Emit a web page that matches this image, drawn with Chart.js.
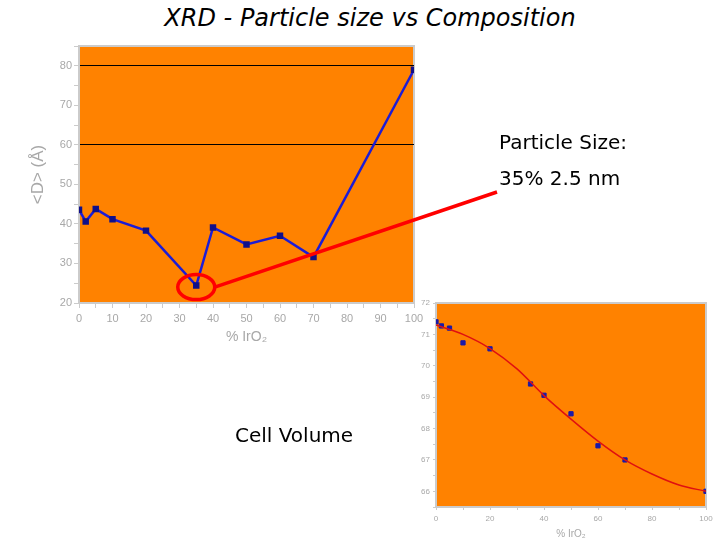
<!DOCTYPE html>
<html>
<head>
<meta charset="utf-8">
<script src="https://cdn.jsdelivr.net/npm/chart.js@4.4.0/dist/chart.umd.min.js"></script>
<style>
  body { margin: 0; background: #fff; width: 720px; height: 540px; position: relative; overflow: hidden; font-family: "DejaVu Sans", sans-serif; }
  canvas { position: absolute; }
  .txt { position: absolute; white-space: nowrap; color: #000; }
</style>
</head>
<body>
<div class="txt" style="left:0;width:740px;top:4px;text-align:center;font-size:24px;line-height:28px;font-style:italic;">XRD - Particle size vs Composition</div>
<canvas id="sizeChart" style="left:0;top:0;" width="720" height="540"></canvas>
<canvas id="volChart" style="left:400px;top:290px;" width="320" height="250"></canvas>
<div class="txt" style="left:499px;top:130px;font-size:20px;line-height:24px;">Particle Size:</div>
<div class="txt" style="left:499px;top:166px;font-size:20px;line-height:24px;">35% 2.5 nm</div>
<div class="txt" style="left:235px;top:423px;font-size:20px;line-height:24px;">Cell Volume</div>
<script>
// particle size <D> vs % IrO2
const composition = [0, 2, 5, 10, 20, 35, 40, 50, 60, 70, 100];
const particleSize = [43.6, 40.6, 43.8, 41.2, 38.3, 24.4, 39.1, 34.8, 37.0, 31.6, 79.0];
const refLines = [60, 80];
// cell volume vs % IrO2
const cellVolume = [71.4, 71.27, 71.2, 70.73, 70.54, 69.42, 69.06, 68.47, 67.45, 67.0, 66.0];
const fitX = [0, 10, 20, 30, 40, 50, 60, 70, 80, 90, 100];
const fitY = [71.3, 71.0, 70.55, 69.9, 69.05, 68.3, 67.6, 67.0, 66.55, 66.2, 66.0];
const highlightX = 35;

const ORANGE = '#ff8200';
const FRAME = '#cbcbcb';
const TICKGREY = '#a8a8a8';

const plotBg = {
    id: 'plotBg',
    beforeDraw(chart) {
        const a = chart.chartArea, ctx = chart.ctx;
        ctx.save();
        ctx.fillStyle = ORANGE;
        ctx.fillRect(a.left, a.top, a.right - a.left, a.bottom - a.top);
        ctx.strokeStyle = FRAME;
        ctx.lineWidth = 2;
        ctx.strokeRect(a.left, a.top, a.right - a.left, a.bottom - a.top);
        ctx.restore();
    }
};

const callout = {
    id: 'callout',
    afterDraw(chart) {
        const ctx = chart.ctx;
        const i = composition.indexOf(highlightX);
        const cx = chart.scales.x.getPixelForValue(highlightX);
        const cy = chart.scales.y.getPixelForValue(particleSize[i]) + 1.5;
        ctx.save();
        ctx.strokeStyle = '#ff0000';
        ctx.lineWidth = 3.5;
        ctx.beginPath();
        ctx.ellipse(cx, cy, 18.5, 12.5, 0, 0, Math.PI * 2);
        ctx.stroke();
        ctx.beginPath();
        ctx.moveTo(cx + 18.5, cy);
        ctx.lineTo(497, 192);
        ctx.stroke();
        ctx.restore();
    }
};

function fixed(size) {
    return function (scale) {
        if (scale.isHorizontal()) scale.height = size; else scale.width = size;
    };
}

new Chart(document.getElementById('sizeChart'), {
    type: 'line',
    data: {
        datasets: [{
            data: composition.map((x, i) => ({ x: x, y: particleSize[i] })),
            borderColor: '#1c1cd6',
            borderWidth: 2.5,
            pointStyle: 'rect',
            pointRadius: 2.8,
            pointBackgroundColor: '#10108a',
            pointBorderColor: '#10108a',
            tension: 0
        }]
    },
    options: {
        responsive: false,
        animation: false,
        layout: { padding: { left: 20, top: 46, right: 306, bottom: 190 } },
        plugins: { legend: { display: false }, tooltip: { enabled: false } },
        scales: {
            x: {
                type: 'linear', min: 0, max: 100,
                afterFit: fixed(47),
                ticks: {
                    stepSize: 5, color: TICKGREY, padding: 4,
                    maxRotation: 0, minRotation: 0, autoSkip: false,
                    font: { family: 'Liberation Sans', size: 11 },
                    callback: v => v % 10 === 0 ? v : ''
                },
                grid: { drawOnChartArea: false, tickLength: 5, tickColor: FRAME },
                border: { color: FRAME, width: 2 },
                title: { display: true, text: '% IrO₂', color: TICKGREY, font: { family: 'Liberation Sans', size: 14 }, padding: { top: 2, bottom: 4 } }
            },
            y: {
                min: 20, max: 85,
                afterFit: fixed(59),
                ticks: {
                    stepSize: 5, color: TICKGREY, padding: 2, autoSkip: false,
                    font: { family: 'Liberation Sans', size: 11 },
                    callback: v => (v % 10 === 0 && v <= 80) ? v : ''
                },
                grid: {
                    tickLength: 5, tickColor: FRAME, lineWidth: 1,
                    color: c => refLines.includes(c.tick.value) ? '#000' : 'rgba(0,0,0,0)'
                },
                border: { color: FRAME, width: 2 },
                title: { display: true, text: '<D> (Å)', color: TICKGREY, font: { family: 'Liberation Sans', size: 17 }, padding: { top: 8, bottom: 2 } }
            }
        }
    },
    plugins: [plotBg, callout]
});

new Chart(document.getElementById('volChart'), {
    type: 'line',
    data: {
        datasets: [{
            data: fitX.map((x, i) => ({ x: x, y: fitY[i] })),
            borderColor: '#e01010',
            borderWidth: 1.5,
            pointRadius: 0,
            cubicInterpolationMode: 'monotone'
        }, {
            data: composition.map((x, i) => ({ x: x, y: cellVolume[i] })),
            showLine: false,
            pointStyle: 'rect',
            pointRadius: 3,
            pointBackgroundColor: '#1a1aa8',
            pointBorderColor: '#1a1aa8'
        }]
    },
    options: {
        responsive: false,
        animation: false,
        layout: { padding: { left: 0, top: 13, right: 14, bottom: 0 } },
        plugins: { legend: { display: false }, tooltip: { enabled: false } },
        scales: {
            x: {
                type: 'linear', min: 0, max: 100,
                afterFit: fixed(33),
                ticks: {
                    stepSize: 10, color: TICKGREY, padding: 4,
                    maxRotation: 0, minRotation: 0, autoSkip: false,
                    font: { family: 'Liberation Sans', size: 8 },
                    callback: v => v % 20 === 0 ? v : ''
                },
                grid: { drawOnChartArea: false, tickLength: 3, tickColor: FRAME },
                border: { color: FRAME, width: 2 },
                title: { display: true, text: '% IrO₂', color: TICKGREY, font: { family: 'Liberation Sans', size: 10 }, padding: { top: 0, bottom: 0 } }
            },
            y: {
                min: 65.5, max: 72,
                afterFit: fixed(36),
                ticks: {
                    stepSize: 0.5, color: TICKGREY, padding: 3, autoSkip: false,
                    font: { family: 'Liberation Sans', size: 8 },
                    callback: v => Number.isInteger(v) ? v : ''
                },
                grid: { drawOnChartArea: false, tickLength: 3, tickColor: FRAME },
                border: { color: FRAME, width: 2 }
            }
        }
    },
    plugins: [plotBg]
});
</script>
</body>
</html>
